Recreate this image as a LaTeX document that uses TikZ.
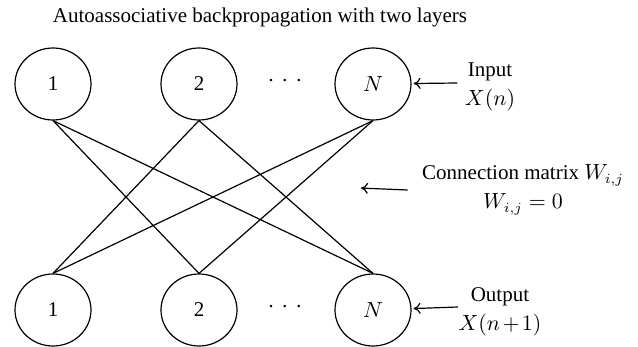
\documentclass[tikz,border=0pt]{standalone}
\usepackage{fontspec}
\setmainfont{Liberation Serif}
\usetikzlibrary{shapes.geometric,arrows.meta}

\begin{document}
\begin{tikzpicture}[x=0.5pt, y=-0.5pt, line width=0.6pt,
	every node/.style = {font=\fontsize{10.5}{14.5}\selectfont},
	main/.style = {draw, ellipse, minimum width=38pt, minimum height=36pt, inner sep=0pt},
	lbl/.style = {align=center, inner ysep=0pt},
	arr/.style = {-{To[length=3.5pt,width=5.5pt]}, shorten >=1pt}]
	\useasboundingbox (0,0) rectangle (638,347);
	\node[anchor=base] (T) at (260,23) {Autoassociative backpropagation with two layers};
	% input layer
	\node[main] (A) at (53,84){1};
	\node[main] (B) at (199,84){2};
	\node[main] (C) at (373,84){$N$};
	\node (P) at (285,83) {·\hspace{3.4pt}·\hspace{3.4pt}·};
	% output layer
	\node[main] (D) at (53,310){1};
	\node[main] (E) at (199,310){2};
	\node[main] (F) at (373,310){$N$};
	\node (Q) at (285,309) {·\hspace{3.4pt}·\hspace{3.4pt}·};
	% weights, no self connections
	\draw[-] (A.south) -- (E.north);
	\draw[-] (A.south) -- (F.north);
	\draw[-] (B.south) -- (D.north);
	\draw[-] (B.south) -- (F.north);
	\draw[-] (C.south) -- (D.north);
	\draw[-] (C.south) -- (E.north);
	% labels
	\node[lbl, inner xsep=3.5pt] (In) at (490,87) {Input\\$X(n)$};
	\node[lbl, inner xsep=7pt] (Con) at (523,190) {Connection matrix $W_{i,j}$\\$W_{i,j} = 0$};
	\node[lbl, inner xsep=0pt] (Out) at (500,312) {Output\\$X(n\mskip2mu{+}\mskip2mu1)$};
	\coordinate (M) at (359,188);
	\draw[arr] ([yshift=2pt]In.west) -- (C);
	\draw[arr] (Con.west) -- (M);
	\draw[arr] ([yshift=2.5pt]Out.west) -- (F);
\end{tikzpicture}
\end{document}
